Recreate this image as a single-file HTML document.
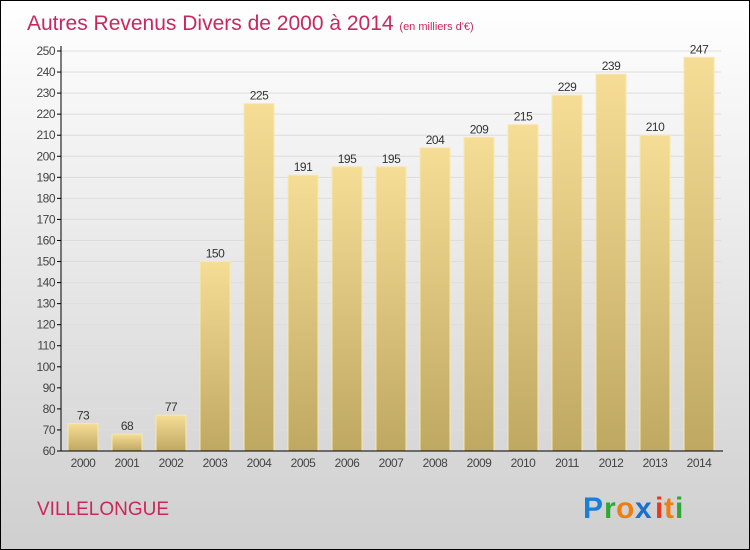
<!DOCTYPE html>
<html><head><meta charset="utf-8"><style>
body{margin:0}
#c{width:750px;height:550px;position:relative;box-sizing:border-box;border:1px solid #000;background:linear-gradient(#ffffff,#cfcfcf);font-family:"Liberation Sans",sans-serif;overflow:hidden}
</style></head><body>
<div id="c">
<svg width="748" height="548" style="position:absolute;left:0;top:0">
<defs><linearGradient id="bg" x1="0" y1="0" x2="0" y2="1"><stop offset="0" stop-color="#f6dd96"/><stop offset="1" stop-color="#bfa862"/></linearGradient></defs>
<text x="26" y="29" font-size="21" fill="#c8285a">Autres Revenus Divers de 2000 à 2014 <tspan font-size="11">(en milliers d'€)</tspan></text>
<g id="grid"></g><g id="bars"></g><g id="axis"></g>
<text x="36" y="514" font-size="19" fill="#c8285a">VILLELONGUE</text>
<g font-size="30" font-weight="bold" font-family="Liberation Sans,sans-serif">
<text x="582" y="517" fill="#1a7fd6">P</text><text x="603" y="517" fill="#2ea836">r</text><text x="615" y="517" fill="#f07d10">o</text><text x="634" y="517" fill="#1a6fd0">x</text><text x="654" y="517" fill="#e8391a">i</text><text x="663" y="517" fill="#f07d10">t</text><text x="674" y="517" fill="#2ea836">i</text></g>
</svg></div>
<script>
const categories=["2000","2001","2002","2003","2004","2005","2006","2007","2008","2009","2010","2011","2012","2013","2014"];
const values=[73,68,77,150,225,191,195,195,204,209,215,229,239,210,247];
const yMin=60,yMax=250;
const ns="http://www.w3.org/2000/svg";
function y(v){return 450-(v-yMin)*(400/(yMax-yMin));}
function x(i){return 82+i*44;}
function mk(t,a,p){const e=document.createElementNS(ns,t);for(const k in a)e.setAttribute(k,a[k]);p.appendChild(e);return e;}
const G=document.getElementById('grid'),B=document.getElementById('bars'),A=document.getElementById('axis');
for(let v=yMin;v<=yMax;v+=10){
 const l=mk('line',{x1:60,x2:720,y1:y(v),y2:y(v),stroke:'#dddddd','stroke-width':1},G);
 
 
 const t=mk('line',{x1:56,x2:60,y1:y(v),y2:y(v),stroke:'#000'},A);
 
 
 const tx=mk('text',{x:54,y:y(v)+4,'font-size':12,'text-anchor':'end',fill:'#444','letter-spacing':'-0.5'},A);
 tx.textContent=v;
 
 
}
values.forEach((v,i)=>{
 const r=mk('rect',{x:x(i)-15,y:y(v),width:30,height:450-y(v),fill:'url(#bg)',stroke:'#f8e8b0','stroke-width':1},B);
 
 
 const t=mk('text',{x:x(i),y:y(v)-4,'font-size':12,'text-anchor':'middle',fill:'#333','letter-spacing':'-0.5'},B);
 t.textContent=v;
 
 
 const c=mk('text',{x:x(i),y:466,'font-size':12,'text-anchor':'middle',fill:'#444','letter-spacing':'-0.5'},A);
 c.textContent=categories[i];
 
 
});
const ax=mk('line',{x1:60,x2:60,y1:45,y2:450,stroke:'#000'},A);


const bx=mk('line',{x1:60,x2:722,y1:450,y2:450,stroke:'#000'},A);


</script></body></html>
